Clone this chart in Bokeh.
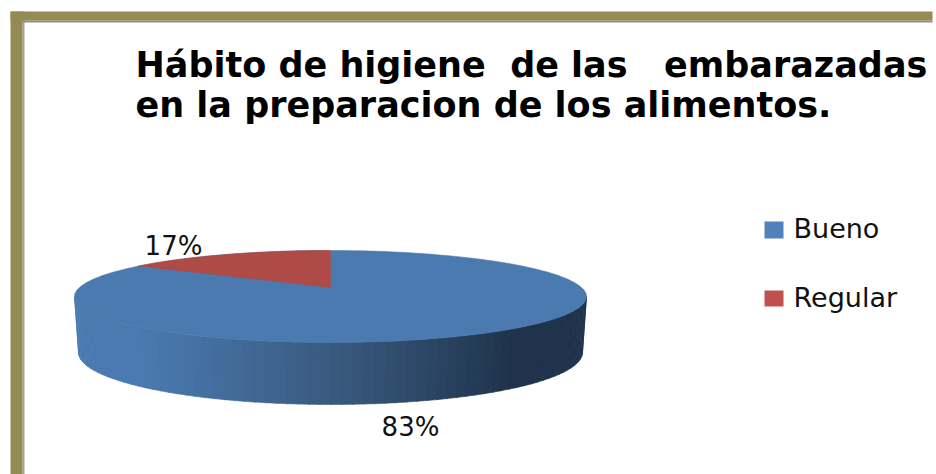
import math
from bokeh.plotting import figure
from bokeh.embed import file_html
from bokeh.resources import INLINE
from bokeh.core.properties import value

title_lines = ["Hábito de higiene\u00a0 de las\u00a0\u00a0 embarazadas", "en la preparacion de los alimentos."]
categories = ["Bueno", "Regular"]
shares = [83, 17]
labels = ["83%", "17%"]
top_colors = ["#4a7aaf", "#ae4b47"]
legend_colors = ["#4f81bd", "#c0504d"]

W, H = 936, 474
p = figure(width=W, height=H, x_range=(0, W), y_range=(H, 0), output_backend="svg",
           toolbar_location=None, min_border=0, outline_line_color=None,
           background_fill_color="white", border_fill_color="white")
p.axis.visible = False
p.grid.visible = False

# frame
p.quad(left=[22], right=[24], top=[11], bottom=[474], color="#a0a0a4", line_width=0)
p.quad(left=[22], right=[932], top=[20], bottom=[22], color="#8c8c8c", line_width=0)
p.quad(left=[10], right=[22], top=[11], bottom=[474], color="#948a54", line_width=0)
p.quad(left=[10], right=[932], top=[11], bottom=[20], color="#948a54", line_width=0)

# title
title_font = value("DejaVu Sans")
p.text(x=[135], y=[64], text=[title_lines[0]], text_font=title_font, text_font_style="bold",
       text_font_size="35px", text_color="black", text_baseline="alphabetic")
p.text(x=[135], y=[104], text=[title_lines[1]], text_font=title_font, text_font_style="bold",
       text_font_size="35px", text_color="black", text_baseline="alphabetic")

# pie geometry
cx, cy, rx, ry = 330, 296, 256, 46
bcy, brx, bry = 352, 252, 52
apex_y = 287
foreshorten = 0.794  # the 3D view draws the small slice narrower than its share

def lerp(c1, c2, f):
    return "#%02x%02x%02x" % tuple(round(a + (b - a) * f) for a, b in zip(c1, c2))

c0, c1, c2 = (0x4a, 0x7a, 0xb0), (0x38, 0x58, 0x7c), (0x1f, 0x33, 0x4c)
xs, ys, cols = [], [], []
N = 72
for i in range(N):
    t0 = math.pi * i / N
    t1 = math.pi * (i + 1) / N + 0.004
    a0, a1 = math.pi - t0, math.pi - t1
    xs.append([cx + rx * math.cos(a0), cx + rx * math.cos(a1), cx + brx * math.cos(a1), cx + brx * math.cos(a0)])
    ys.append([cy + ry * math.sin(a0), cy + ry * math.sin(a1), bcy + bry * math.sin(a1), bcy + bry * math.sin(a0)])
    u = (xs[-1][0] - (cx - rx)) / (2 * rx)
    if u < 0.12:
        col = lerp(c0, c0, 0)
    elif u < 0.52:
        col = lerp(c0, c1, (u - 0.12) / 0.40)
    elif u < 0.85:
        col = lerp(c1, c2, (u - 0.52) / 0.33)
    else:
        col = lerp(c2, c2, 0)
    cols.append(col)
p.patches(xs, ys, fill_color=cols, line_color=cols, line_width=0.6)

# top face
sweep = math.radians(360 * shares[1] / sum(shares) * foreshorten)
n = 200
ex = [cx + rx * math.sin(2 * math.pi * i / n) for i in range(n)]
ey = [cy - ry * math.cos(2 * math.pi * i / n) for i in range(n)]
p.patch(ex, ey, fill_color=top_colors[0], line_color=top_colors[0], line_width=0.5)
wx = [cx] + [cx - rx * math.sin(sweep * i / 40) for i in range(41)]
wy = [apex_y] + [cy - ry * math.cos(sweep * i / 40) for i in range(41)]
p.patch(wx, wy, fill_color=top_colors[1], line_color=top_colors[1], line_width=0.5)

# data labels
lab_font = value("DejaVu Sans")
p.text(x=[410], y=[426], text=[labels[0]], text_font=lab_font, text_font_size="26px", text_color="#111111",
       text_align="center", text_baseline="alphabetic")
p.text(x=[173], y=[245], text=[labels[1]], text_font=lab_font, text_font_size="26px", text_color="#111111",
       text_align="center", text_baseline="alphabetic")

# legend
p.quad(left=[764, 764], right=[783, 783], top=[221, 290], bottom=[238, 306], color=legend_colors, line_width=0)
p.text(x=[793, 793], y=[228, 297], text=categories, text_font=lab_font, text_font_size="27px", text_color="#111111",
       text_baseline="alphabetic")

open("out.html", "w").write(file_html(p, INLINE))
